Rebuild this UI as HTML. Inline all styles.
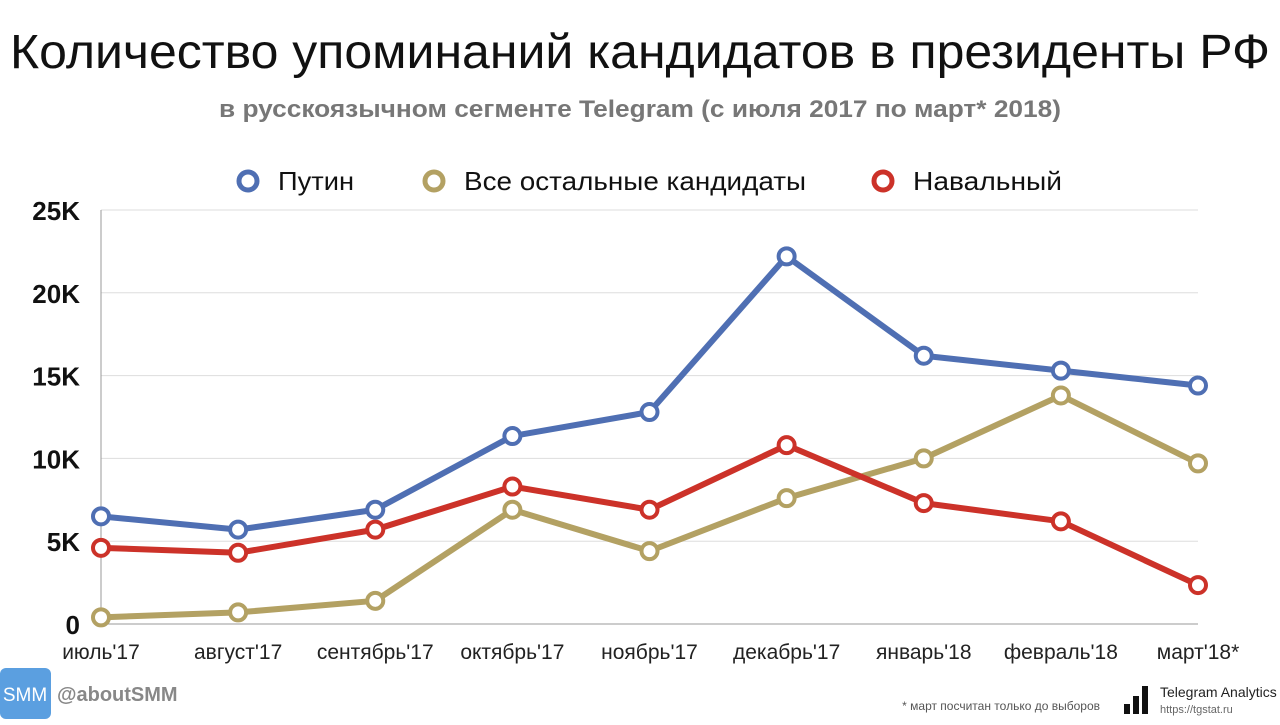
<!DOCTYPE html>
<html><head><meta charset="utf-8"><style>
body{margin:0;width:1280px;height:720px;background:#fff;overflow:hidden;font-family:"Liberation Sans","DejaVu Sans",sans-serif}
</style></head><body>
<svg id="chart" width="1280" height="720" xmlns="http://www.w3.org/2000/svg">
<text x="640" y="68" text-anchor="middle" font-size="48" fill="#111" textLength="1260" lengthAdjust="spacingAndGlyphs">Количество упоминаний кандидатов в президенты РФ</text>
<text x="640" y="117" text-anchor="middle" font-size="24" font-weight="bold" fill="#777" textLength="842" lengthAdjust="spacingAndGlyphs">в русскоязычном сегменте Telegram (с июля 2017 по март* 2018)</text>
<g id="legend"></g>
<g id="grid"></g><g id="lines"></g><g id="xlabels"></g>
<rect x="0" y="668" width="51" height="51" rx="6" fill="#5b9fe0"/>
<text x="25" y="701" text-anchor="middle" font-size="19" fill="#fff">SMM</text>
<text x="57" y="701" font-size="20" font-weight="bold" fill="#888">@aboutSMM</text>
<text x="1100" y="710" text-anchor="end" font-size="12" fill="#555">* март посчитан только до выборов</text>
<g fill="#111"><rect x="1124" y="704" width="6" height="10"/><rect x="1133" y="696" width="6" height="18"/><rect x="1142" y="686" width="6" height="28"/></g>
<text x="1160" y="697" font-size="14" fill="#222">Telegram Analytics</text>
<text x="1160" y="713" font-size="11" fill="#666">https://tgstat.ru</text>
</svg>
<script>
const categories=["июль'17","август'17","сентябрь'17","октябрь'17","ноябрь'17","декабрь'17","январь'18","февраль'18","март'18*"];
const putin=[6.5,5.7,6.9,11.35,12.8,22.2,16.2,15.3,14.4];
const others=[0.4,0.7,1.4,6.9,4.4,7.6,10.0,13.8,9.7];
const navalny=[4.6,4.3,5.7,8.3,6.9,10.8,7.3,6.2,2.35];
const yTicks=[0,5,10,15,20,25];
const yTickLabels=["0","5K","10K","15K","20K","25K"];
const seriesNames=["Путин","Все остальные кандидаты","Навальный"];
const NS="http://www.w3.org/2000/svg";
const x=i=>101+i*(1198-101)/8;
const y=v=>624-v*(624-210)/25;
function mk(t,a,p){const e=document.createElementNS(NS,t);for(const k in a)e.setAttribute(k,a[k]);p.appendChild(e);return e;}
const grid=document.getElementById('grid');
yTicks.forEach((t,i)=>{
 const l=mk('line',{x1:101,x2:1198,y1:y(t),y2:y(t),stroke:t===0?'#999':'#ddd','stroke-width':1},grid);
 
 
 const tx=mk('text',{x:80,y:y(t)+10,'text-anchor':'end','font-size':26,'font-weight':'bold',fill:'#111'},grid);
 tx.textContent=yTickLabels[i];
 
 
});
const ax=mk('line',{x1:101,x2:101,y1:210,y2:624,stroke:'#999'},grid);


const xl=document.getElementById('xlabels');
categories.forEach((c,i)=>{
 const t=mk('text',{x:x(i),y:659,'text-anchor':'middle','font-size':21,fill:'#222'},xl);
 t.textContent=c;
 
 
});
const series=[[putin,'#4f6fb3'],[others,'#b3a163'],[navalny,'#cc3229']];
const lines=document.getElementById('lines');
[series[1],series[2],series[0]].forEach(([d,c])=>{
 const p=mk('polyline',{points:d.map((v,i)=>x(i)+','+y(v)).join(' '),fill:'none',stroke:c,'stroke-width':6,'stroke-linejoin':'round'},lines);
 
 
 d.forEach((v,i)=>{
  const m=mk('circle',{cx:x(i),cy:y(v),r:8,fill:'#fff',stroke:c,'stroke-width':4},lines);
  
  
 });
});
const lg=document.getElementById('legend');
const lx=[248,434,883];
const lw=[76,342,149];
series.forEach(([d,c],i)=>{
 const m=mk('circle',{cx:lx[i],cy:181,r:9,fill:'#fff',stroke:c,'stroke-width':5},lg);
 
 
 const t=mk('text',{x:lx[i]+30,y:190,'font-size':26,fill:'#111',textLength:lw[i],lengthAdjust:'spacingAndGlyphs'},lg);
 t.textContent=seriesNames[i];
 
 
});
</script>
</body></html>
